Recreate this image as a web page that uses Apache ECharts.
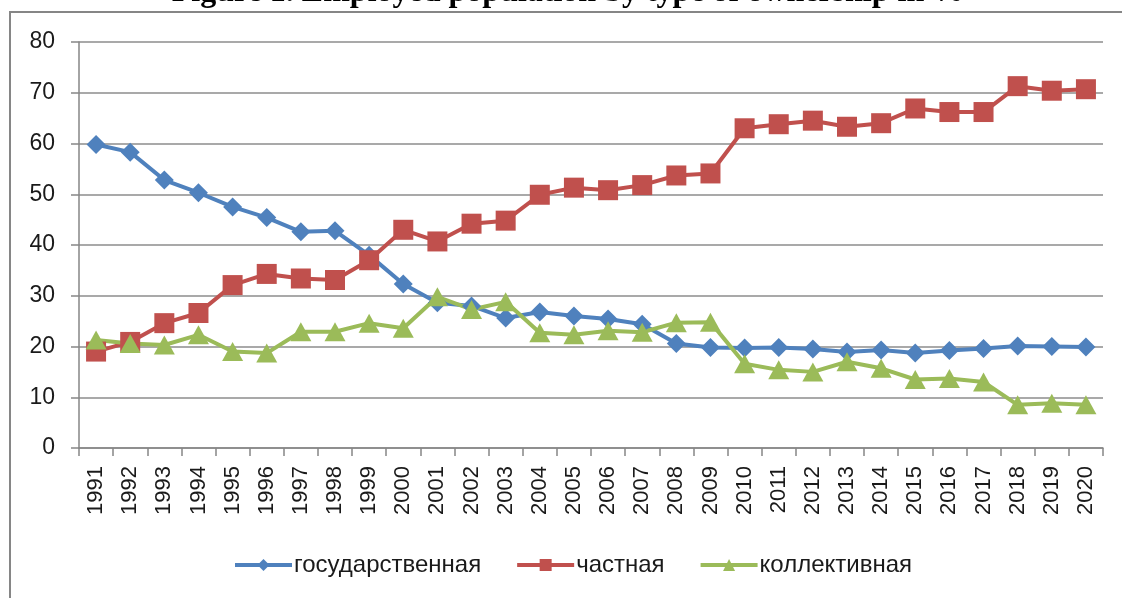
<!DOCTYPE html>
<html>
<head>
<meta charset="utf-8">
<script src="https://cdn.jsdelivr.net/npm/echarts@6/dist/echarts.min.js"></script>
<style>
html,body{margin:0;padding:0;background:#fff;}
#chart{width:1122px;height:598px;}
</style>
</head>
<body>
<div id="chart"></div>
<script>
const titleText = 'Figure 1. Employed population by type of ownership in %';
const years = ['1991','1992','1993','1994','1995','1996','1997','1998','1999','2000',
  '2001','2002','2003','2004','2005','2006','2007','2008','2009','2010',
  '2011','2012','2013','2014','2015','2016','2017','2018','2019','2020'];
const seriesNames = ['государственная','частная','коллективная'];
const stateOwned = [59.8,58.3,52.8,50.3,47.5,45.4,42.6,42.8,38.0,32.3,
  28.6,28.0,25.6,26.8,26.0,25.4,24.4,20.6,19.8,19.7,
  19.8,19.5,18.9,19.3,18.7,19.2,19.6,20.1,20.0,19.9];
const privateOwned = [19.0,20.9,24.6,26.6,32.1,34.3,33.4,33.1,37.0,43.0,
  40.7,44.2,44.8,49.9,51.3,50.8,51.8,53.7,54.1,63.0,
  63.8,64.5,63.3,64.0,66.9,66.2,66.2,71.3,70.4,70.7];
const collective = [21.3,20.6,20.3,22.3,19.0,18.7,22.9,22.9,24.6,23.6,
  29.8,27.3,28.8,22.7,22.3,23.1,22.8,24.7,24.8,16.6,
  15.4,15.0,17.0,15.7,13.5,13.7,13.0,8.5,8.8,8.5];
const yTicks = [0,10,20,30,40,50,60,70,80];

const colors = ['#4F81BD','#C0504D','#9BBB59'];
const symbols = ['diamond','rect','triangle'];
const sizes = [[19,19],[20,20],[21,19]];
const dataSets = [stateOwned, privateOwned, collective];

const chart = echarts.init(document.getElementById('chart'), null, {renderer:'canvas'});
const option = {
  animation:false,
  backgroundColor:'#fff',
  graphic:[
    {type:'rect', shape:{x:10,y:12,width:1200,height:700}, style:{fill:'none',stroke:'#868686',lineWidth:2}, silent:true},
    {type:'text', x:568, y:-7, style:{text:titleText, font:'bold 32px "Liberation Serif"', fill:'#000', textAlign:'center', textVerticalAlign:'middle'}}
  ],
  grid:{left:79, right:19, top:42, bottom:150, containLabel:false},
  legend:{
    data:seriesNames,
    left:233, top:553, padding:0,
    itemWidth:57, itemHeight:15, itemGap:34,
    lineStyle:{width:4},
    textStyle:{fontFamily:'Liberation Sans', fontSize:24, color:'#1a1a1a', lineHeight:24, padding:[0,0,0,-3]}
  },
  xAxis:{
    type:'category', data:years, boundaryGap:true,
    axisLine:{lineStyle:{color:'#868686', width:1.5}},
    axisTick:{show:true, length:8, lineStyle:{color:'#868686', width:1.5}},
    axisLabel:{rotate:90, margin:18, fontFamily:'Liberation Sans', fontSize:22, color:'#1a1a1a', interval:0},
    splitLine:{show:false}
  },
  yAxis:{
    type:'value', min:yTicks[0], max:yTicks[yTicks.length-1], interval:10,
    axisLine:{show:true, lineStyle:{color:'#868686', width:1.5}},
    axisTick:{show:true, length:8, lineStyle:{color:'#868686', width:1.5}},
    axisLabel:{margin:24, fontFamily:'Liberation Sans', fontSize:23, color:'#1a1a1a'},
    splitLine:{show:true, lineStyle:{color:'#8c8c8c', width:1.5}}
  },
  series: seriesNames.map((n,i)=>({
    name:n, type:'line', data:dataSets[i],
    symbol:symbols[i], symbolSize:sizes[i],
    lineStyle:{color:colors[i], width:4},
    itemStyle:{color:colors[i]},
    emphasis:{disabled:true}
  }))
};
chart.setOption(option);
</script>
</body>
</html>
